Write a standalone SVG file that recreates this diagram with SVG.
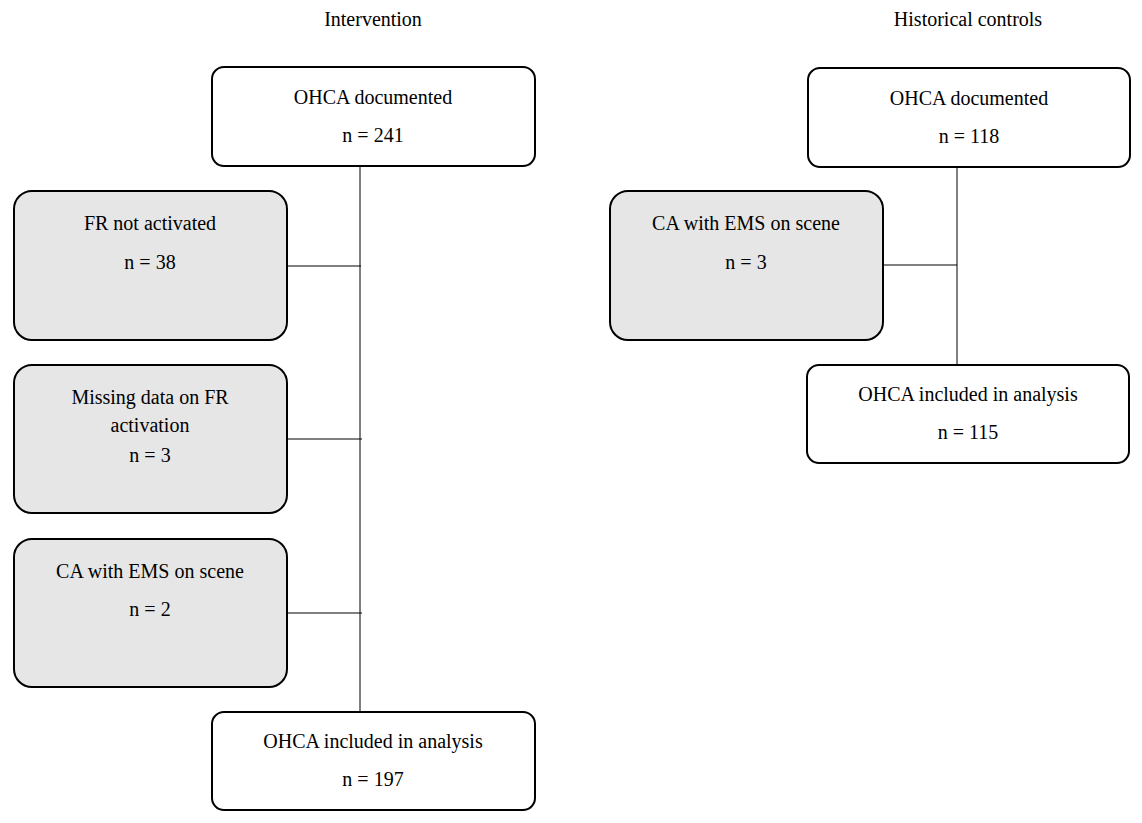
<svg xmlns="http://www.w3.org/2000/svg" width="1142" height="823" viewBox="0 0 1142 823">
<style>
text{font-family:"Liberation Serif","Times New Roman",serif;font-size:20px;fill:#000;text-anchor:middle}
.w{fill:#fff;stroke:#000;stroke-width:2}
.g{fill:#e6e6e6;stroke:#000;stroke-width:2}
.c line{stroke:#000;stroke-width:1}
</style>
<rect width="1142" height="823" fill="#fff"/>
<text x="373" y="26">Intervention</text>
<text x="968" y="26">Historical controls</text>
<g class="c" id="connectors">
<line x1="360" y1="166" x2="360" y2="712"/>
<line x1="287" y1="266" x2="361" y2="266"/>
<line x1="287" y1="439" x2="362" y2="439"/>
<line x1="287" y1="613" x2="362" y2="613"/>
<line x1="957" y1="167" x2="957" y2="365"/>
<line x1="883" y1="265" x2="957" y2="265"/>
</g>
<g id="n1"><rect class="w" x="212" y="67" width="323" height="99" rx="12"/><text x="373" y="104">OHCA documented</text><text x="373" y="142">n = 241</text></g>
<g id="n2"><rect class="g" x="14" y="191" width="273" height="149" rx="18"/><text x="150" y="230">FR not activated</text><text x="150" y="269">n = 38</text></g>
<g id="n3"><rect class="g" x="14" y="365" width="273" height="148" rx="18"/><text x="150" y="404">Missing data on FR</text><text x="150" y="432">activation</text><text x="150" y="462">n = 3</text></g>
<g id="n4"><rect class="g" x="14" y="539" width="273" height="148" rx="18"/><text x="150" y="578">CA with EMS on scene</text><text x="150" y="616">n = 2</text></g>
<g id="n5"><rect class="w" x="212" y="712" width="323" height="98" rx="12"/><text x="373" y="748">OHCA included in analysis</text><text x="373" y="786">n = 197</text></g>
<g id="n6"><rect class="w" x="808" y="68" width="322" height="99" rx="12"/><text x="969" y="105">OHCA documented</text><text x="969" y="143">n = 118</text></g>
<g id="n7"><rect class="g" x="610" y="191" width="273" height="149" rx="18"/><text x="746" y="230">CA with EMS on scene</text><text x="746" y="269">n = 3</text></g>
<g id="n8"><rect class="w" x="807" y="365" width="322" height="98" rx="12"/><text x="968" y="401">OHCA included in analysis</text><text x="968" y="439">n = 115</text></g>
</svg>
